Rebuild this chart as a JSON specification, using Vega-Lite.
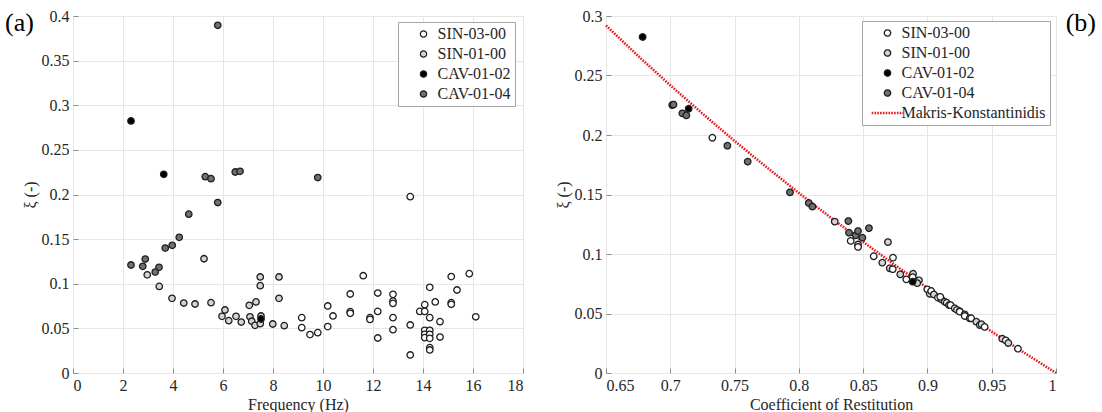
{
  "$schema": "https://vega.github.io/schema/vega-lite/v6.json",
  "padding": {"left": 4, "top": 7, "right": 0, "bottom": 0},
  "config": {
    "font": "Liberation Serif",
    "view": {"stroke": "#a6a6a6", "strokeWidth": 1},
    "style": {"guide-label": {"font": "Liberation Serif"}, "guide-title": {"font": "Liberation Serif"}},
    "axis": {"labelFont": "Liberation Serif", "labelFontSize": 16, "labelColor": "#262626", "titleFont": "Liberation Serif", "titleFontSize": 16, "titleFontWeight": "normal", "titleColor": "#262626", "gridColor": "#e6e6e6", "gridWidth": 1, "domain": false, "ticks": true, "tickSize": -5, "tickColor": "#8c8c8c", "tickWidth": 1, "labelPadding": 9, "titlePadding": 3},
    "legend": {"orient": "none", "title": null, "padding": 4, "symbolOffset": 13.5, "labelOffset": 6, "rowPadding": 4, "labelFont": "Liberation Serif", "labelFontSize": 16, "labelColor": "#262626", "strokeColor": "#a6a6a6", "fillColor": "white", "symbolSize": 40, "symbolStrokeWidth": 1.2},
    "title": {"font": "Liberation Serif", "fontSize": 26, "fontWeight": "normal", "color": "#000000"}
  },
  "spacing": 30,
  "resolve": {"scale": {"fill": "independent", "stroke": "independent", "shape": "independent", "strokeWidth": "independent", "strokeDash": "independent"}, "legend": {"fill": "independent", "stroke": "independent", "shape": "independent", "strokeWidth": "independent", "strokeDash": "independent"}},
  "hconcat": [
    {
      "width": 450,
      "height": 357,
      "title": {"text": "(a)", "anchor": "start", "frame": "group", "dx": -68, "dy": 40.5, "baseline": "middle", "offset": 0},
      "data": {"values": [
        {"f": 2.97, "xi": 0.110, "s": "SIN-01-00"},
        {"f": 5.24, "xi": 0.128, "s": "SIN-01-00"},
        {"f": 3.45, "xi": 0.097, "s": "SIN-01-00"},
        {"f": 3.96, "xi": 0.0837, "s": "SIN-01-00"},
        {"f": 4.43, "xi": 0.0784, "s": "SIN-01-00"},
        {"f": 4.88, "xi": 0.0773, "s": "SIN-01-00"},
        {"f": 5.52, "xi": 0.0788, "s": "SIN-01-00"},
        {"f": 6.08, "xi": 0.0706, "s": "SIN-01-00"},
        {"f": 5.96, "xi": 0.0635, "s": "SIN-01-00"},
        {"f": 6.23, "xi": 0.0586, "s": "SIN-01-00"},
        {"f": 6.52, "xi": 0.0635, "s": "SIN-01-00"},
        {"f": 6.73, "xi": 0.0571, "s": "SIN-01-00"},
        {"f": 7.08, "xi": 0.063, "s": "SIN-01-00"},
        {"f": 7.05, "xi": 0.0758, "s": "SIN-01-00"},
        {"f": 7.32, "xi": 0.0796, "s": "SIN-01-00"},
        {"f": 7.49, "xi": 0.1076, "s": "SIN-01-00"},
        {"f": 7.49, "xi": 0.0978, "s": "SIN-01-00"},
        {"f": 8.24, "xi": 0.1076, "s": "SIN-01-00"},
        {"f": 8.24, "xi": 0.0837, "s": "SIN-01-00"},
        {"f": 7.15, "xi": 0.058, "s": "SIN-01-00"},
        {"f": 7.28, "xi": 0.0534, "s": "SIN-01-00"},
        {"f": 7.49, "xi": 0.0553, "s": "SIN-01-00"},
        {"f": 7.52, "xi": 0.0639, "s": "SIN-01-00"},
        {"f": 7.99, "xi": 0.0549, "s": "SIN-01-00"},
        {"f": 8.45, "xi": 0.053, "s": "SIN-01-00"},
        {"f": 9.15, "xi": 0.062, "s": "SIN-03-00"},
        {"f": 9.15, "xi": 0.0508, "s": "SIN-03-00"},
        {"f": 9.48, "xi": 0.043, "s": "SIN-03-00"},
        {"f": 9.79, "xi": 0.0452, "s": "SIN-03-00"},
        {"f": 10.19, "xi": 0.0751, "s": "SIN-03-00"},
        {"f": 10.4, "xi": 0.0639, "s": "SIN-03-00"},
        {"f": 10.19, "xi": 0.052, "s": "SIN-03-00"},
        {"f": 11.09, "xi": 0.0885, "s": "SIN-03-00"},
        {"f": 11.09, "xi": 0.0687, "s": "SIN-03-00"},
        {"f": 11.09, "xi": 0.0669, "s": "SIN-03-00"},
        {"f": 11.61, "xi": 0.109, "s": "SIN-03-00"},
        {"f": 11.88, "xi": 0.062, "s": "SIN-03-00"},
        {"f": 11.88, "xi": 0.060, "s": "SIN-03-00"},
        {"f": 12.19, "xi": 0.0896, "s": "SIN-03-00"},
        {"f": 12.19, "xi": 0.069, "s": "SIN-03-00"},
        {"f": 12.19, "xi": 0.0392, "s": "SIN-03-00"},
        {"f": 12.8, "xi": 0.0881, "s": "SIN-03-00"},
        {"f": 12.8, "xi": 0.0807, "s": "SIN-03-00"},
        {"f": 12.8, "xi": 0.078, "s": "SIN-03-00"},
        {"f": 12.8, "xi": 0.062, "s": "SIN-03-00"},
        {"f": 12.8, "xi": 0.0485, "s": "SIN-03-00"},
        {"f": 13.49, "xi": 0.0538, "s": "SIN-03-00"},
        {"f": 13.49, "xi": 0.0202, "s": "SIN-03-00"},
        {"f": 13.87, "xi": 0.069, "s": "SIN-03-00"},
        {"f": 14.07, "xi": 0.0766, "s": "SIN-03-00"},
        {"f": 14.07, "xi": 0.069, "s": "SIN-03-00"},
        {"f": 14.07, "xi": 0.0478, "s": "SIN-03-00"},
        {"f": 14.07, "xi": 0.0433, "s": "SIN-03-00"},
        {"f": 14.07, "xi": 0.0396, "s": "SIN-03-00"},
        {"f": 14.27, "xi": 0.096, "s": "SIN-03-00"},
        {"f": 14.27, "xi": 0.062, "s": "SIN-03-00"},
        {"f": 14.27, "xi": 0.0478, "s": "SIN-03-00"},
        {"f": 14.27, "xi": 0.0433, "s": "SIN-03-00"},
        {"f": 14.27, "xi": 0.0388, "s": "SIN-03-00"},
        {"f": 14.27, "xi": 0.0284, "s": "SIN-03-00"},
        {"f": 14.27, "xi": 0.0258, "s": "SIN-03-00"},
        {"f": 14.49, "xi": 0.0796, "s": "SIN-03-00"},
        {"f": 14.68, "xi": 0.0575, "s": "SIN-03-00"},
        {"f": 14.68, "xi": 0.0403, "s": "SIN-03-00"},
        {"f": 15.13, "xi": 0.108, "s": "SIN-03-00"},
        {"f": 15.13, "xi": 0.0788, "s": "SIN-03-00"},
        {"f": 15.13, "xi": 0.077, "s": "SIN-03-00"},
        {"f": 15.36, "xi": 0.093, "s": "SIN-03-00"},
        {"f": 15.85, "xi": 0.1113, "s": "SIN-03-00"},
        {"f": 16.11, "xi": 0.063, "s": "SIN-03-00"},
        {"f": 13.49, "xi": 0.1976, "s": "SIN-03-00"},
        {"f": 5.79, "xi": 0.3896, "s": "CAV-01-04"},
        {"f": 5.29, "xi": 0.220, "s": "CAV-01-04"},
        {"f": 5.52, "xi": 0.2177, "s": "CAV-01-04"},
        {"f": 6.49, "xi": 0.2252, "s": "CAV-01-04"},
        {"f": 6.68, "xi": 0.226, "s": "CAV-01-04"},
        {"f": 5.79, "xi": 0.191, "s": "CAV-01-04"},
        {"f": 9.79, "xi": 0.219, "s": "CAV-01-04"},
        {"f": 4.63, "xi": 0.178, "s": "CAV-01-04"},
        {"f": 4.25, "xi": 0.152, "s": "CAV-01-04"},
        {"f": 3.97, "xi": 0.143, "s": "CAV-01-04"},
        {"f": 3.69, "xi": 0.140, "s": "CAV-01-04"},
        {"f": 2.32, "xi": 0.121, "s": "CAV-01-04"},
        {"f": 2.89, "xi": 0.1277, "s": "CAV-01-04"},
        {"f": 2.79, "xi": 0.1195, "s": "CAV-01-04"},
        {"f": 3.44, "xi": 0.1184, "s": "CAV-01-04"},
        {"f": 3.29, "xi": 0.1131, "s": "CAV-01-04"},
        {"f": 2.32, "xi": 0.2824, "s": "CAV-01-02"},
        {"f": 3.63, "xi": 0.2226, "s": "CAV-01-02"},
        {"f": 7.52, "xi": 0.0605, "s": "CAV-01-02"}
      ]},
      "mark": {"type": "point", "filled": true, "size": 42, "strokeWidth": 1.3, "opacity": 1},
      "encoding": {
        "x": {"field": "f", "type": "quantitative", "scale": {"domain": [0, 18], "nice": false}, "axis": {"title": "Frequency (Hz)", "labelFont": "Liberation Serif", "titleFont": "Liberation Serif", "values": [0, 2, 4, 6, 8, 10, 12, 14, 16, 18], "format": "~g"}},
        "y": {"field": "xi", "type": "quantitative", "scale": {"domain": [0, 0.4], "nice": false}, "axis": {"title": "ξ (-)", "labelFont": "Liberation Serif", "titleFont": "Liberation Serif", "values": [0, 0.05, 0.1, 0.15, 0.2, 0.25, 0.3, 0.35, 0.4], "format": "~g"}},
        "fill": {"field": "s", "type": "nominal", "scale": {"domain": ["SIN-03-00", "SIN-01-00", "CAV-01-02", "CAV-01-04"], "range": ["#ffffff", "#d4d4d4", "#000000", "#707070"]}, "legend": {"orient": "none", "legendX": 325, "legendY": 6, "title": null}},
        "stroke": {"field": "s", "type": "nominal", "scale": {"domain": ["SIN-03-00", "SIN-01-00", "CAV-01-02", "CAV-01-04"], "range": ["#1e1e1e", "#1e1e1e", "#1e1e1e", "#1e1e1e"]}, "legend": {"orient": "none", "legendX": 325, "legendY": 6, "title": null}}
      }
    },
    {
      "width": 450,
      "height": 357,
      "title": {"text": "(b)", "anchor": "end", "frame": "group", "dx": 40, "dy": 40.5, "baseline": "middle", "offset": 0},
      "layer": [
        {
          "data": {"values": [
            {"cor": 0.65, "xi": 0.292}, {"cor": 0.675, "xi": 0.2664}, {"cor": 0.70, "xi": 0.2418}, {"cor": 0.725, "xi": 0.218},
            {"cor": 0.75, "xi": 0.195}, {"cor": 0.775, "xi": 0.1728}, {"cor": 0.80, "xi": 0.1513}, {"cor": 0.825, "xi": 0.1304},
            {"cor": 0.85, "xi": 0.1102}, {"cor": 0.875, "xi": 0.0905}, {"cor": 0.90, "xi": 0.0714}, {"cor": 0.925, "xi": 0.0529},
            {"cor": 0.95, "xi": 0.0348}, {"cor": 0.975, "xi": 0.0172}, {"cor": 1.0, "xi": 0}
          ]},
          "mark": {"type": "line", "color": "#e8191f", "strokeWidth": 2.6, "strokeDash": [1.6, 1.2]},
          "encoding": {
            "x": {"field": "cor", "type": "quantitative", "scale": {"domain": [0.65, 1], "nice": false}, "axis": {"title": "Coefficient of Restitution", "labelFont": "Liberation Serif", "titleFont": "Liberation Serif", "values": [0.65, 0.7, 0.75, 0.8, 0.85, 0.9, 0.95, 1], "format": "~g"}},
            "y": {"field": "xi", "type": "quantitative", "scale": {"domain": [0, 0.3], "nice": false}, "axis": {"title": "ξ (-)", "labelFont": "Liberation Serif", "titleFont": "Liberation Serif", "values": [0, 0.05, 0.1, 0.15, 0.2, 0.25, 0.3], "format": "~g"}}
          }
        },
        {
          "data": {"values": [
            {"cor": 0.7327, "xi": 0.1977, "s": "SIN-03-00"},
            {"cor": 0.8279, "xi": 0.1272, "s": "SIN-01-00"},
            {"cor": 0.8403, "xi": 0.111, "s": "SIN-03-00"},
            {"cor": 0.846, "xi": 0.108, "s": "SIN-01-00"},
            {"cor": 0.846, "xi": 0.1059, "s": "SIN-03-00"},
            {"cor": 0.8693, "xi": 0.110, "s": "SIN-01-00"},
            {"cor": 0.8582, "xi": 0.0981, "s": "SIN-03-00"},
            {"cor": 0.8649, "xi": 0.0927, "s": "SIN-01-00"},
            {"cor": 0.8732, "xi": 0.0969, "s": "SIN-03-00"},
            {"cor": 0.8707, "xi": 0.088, "s": "SIN-01-00"},
            {"cor": 0.873, "xi": 0.0872, "s": "SIN-03-00"},
            {"cor": 0.8789, "xi": 0.0829, "s": "SIN-01-00"},
            {"cor": 0.8836, "xi": 0.0787, "s": "SIN-03-00"},
            {"cor": 0.8888, "xi": 0.0834, "s": "SIN-01-00"},
            {"cor": 0.891, "xi": 0.0775, "s": "SIN-03-00"},
            {"cor": 0.8934, "xi": 0.0779, "s": "SIN-01-00"},
            {"cor": 0.8885, "xi": 0.0805, "s": "SIN-03-00"},
            {"cor": 0.892, "xi": 0.0755, "s": "SIN-01-00"},
            {"cor": 0.8999, "xi": 0.0703, "s": "SIN-03-00"},
            {"cor": 0.9018, "xi": 0.0666, "s": "SIN-01-00"},
            {"cor": 0.9029, "xi": 0.0689, "s": "SIN-03-00"},
            {"cor": 0.905, "xi": 0.066, "s": "SIN-01-00"},
            {"cor": 0.9082, "xi": 0.0633, "s": "SIN-03-00"},
            {"cor": 0.9108, "xi": 0.0619, "s": "SIN-01-00"},
            {"cor": 0.91, "xi": 0.064, "s": "SIN-03-00"},
            {"cor": 0.9134, "xi": 0.0599, "s": "SIN-01-00"},
            {"cor": 0.915, "xi": 0.059, "s": "SIN-03-00"},
            {"cor": 0.9168, "xi": 0.0571, "s": "SIN-01-00"},
            {"cor": 0.918, "xi": 0.057, "s": "SIN-03-00"},
            {"cor": 0.9212, "xi": 0.0544, "s": "SIN-01-00"},
            {"cor": 0.923, "xi": 0.053, "s": "SIN-03-00"},
            {"cor": 0.925, "xi": 0.052, "s": "SIN-01-00"},
            {"cor": 0.9251, "xi": 0.0515, "s": "SIN-03-00"},
            {"cor": 0.929, "xi": 0.0493, "s": "SIN-01-00"},
            {"cor": 0.929, "xi": 0.0479, "s": "SIN-03-00"},
            {"cor": 0.9329, "xi": 0.046, "s": "SIN-01-00"},
            {"cor": 0.934, "xi": 0.046, "s": "SIN-03-00"},
            {"cor": 0.938, "xi": 0.0431, "s": "SIN-01-00"},
            {"cor": 0.9407, "xi": 0.0403, "s": "SIN-03-00"},
            {"cor": 0.942, "xi": 0.041, "s": "SIN-01-00"},
            {"cor": 0.9445, "xi": 0.0387, "s": "SIN-03-00"},
            {"cor": 0.9582, "xi": 0.0288, "s": "SIN-01-00"},
            {"cor": 0.9609, "xi": 0.0274, "s": "SIN-03-00"},
            {"cor": 0.9629, "xi": 0.0252, "s": "SIN-01-00"},
            {"cor": 0.9704, "xi": 0.0204, "s": "SIN-03-00"},
            {"cor": 0.7015, "xi": 0.2252, "s": "CAV-01-04"},
            {"cor": 0.7025, "xi": 0.2256, "s": "CAV-01-04"},
            {"cor": 0.7094, "xi": 0.2182, "s": "CAV-01-04"},
            {"cor": 0.7125, "xi": 0.2165, "s": "CAV-01-04"},
            {"cor": 0.7444, "xi": 0.191, "s": "CAV-01-04"},
            {"cor": 0.7602, "xi": 0.1776, "s": "CAV-01-04"},
            {"cor": 0.7931, "xi": 0.1518, "s": "CAV-01-04"},
            {"cor": 0.8077, "xi": 0.1429, "s": "CAV-01-04"},
            {"cor": 0.8105, "xi": 0.1398, "s": "CAV-01-04"},
            {"cor": 0.8385, "xi": 0.1277, "s": "CAV-01-04"},
            {"cor": 0.839, "xi": 0.1179, "s": "CAV-01-04"},
            {"cor": 0.8442, "xi": 0.1157, "s": "CAV-01-04"},
            {"cor": 0.846, "xi": 0.1193, "s": "CAV-01-04"},
            {"cor": 0.8494, "xi": 0.1137, "s": "CAV-01-04"},
            {"cor": 0.8545, "xi": 0.1217, "s": "CAV-01-04"},
            {"cor": 0.6785, "xi": 0.2824, "s": "CAV-01-02"},
            {"cor": 0.7143, "xi": 0.2221, "s": "CAV-01-02"},
            {"cor": 0.8885, "xi": 0.0767, "s": "CAV-01-02"}
          ]},
          "mark": {"type": "point", "filled": true, "size": 42, "opacity": 1},
          "encoding": {
            "x": {"field": "cor", "type": "quantitative", "scale": {"domain": [0.65, 1], "nice": false}, "axis": {"title": "Coefficient of Restitution", "labelFont": "Liberation Serif", "titleFont": "Liberation Serif", "values": [0.65, 0.7, 0.75, 0.8, 0.85, 0.9, 0.95, 1], "format": "~g"}},
            "y": {"field": "xi", "type": "quantitative", "scale": {"domain": [0, 0.3], "nice": false}, "axis": {"title": "ξ (-)", "labelFont": "Liberation Serif", "titleFont": "Liberation Serif", "values": [0, 0.05, 0.1, 0.15, 0.2, 0.25, 0.3], "format": "~g"}},
            "fill": {"field": "s", "type": "nominal", "scale": {"domain": ["SIN-03-00", "SIN-01-00", "CAV-01-02", "CAV-01-04", "Makris-Konstantinidis"], "range": ["#ffffff", "#d4d4d4", "#000000", "#707070", "#e8191f"]}, "legend": {"orient": "none", "legendX": 256, "legendY": 5, "title": null}},
            "stroke": {"field": "s", "type": "nominal", "scale": {"domain": ["SIN-03-00", "SIN-01-00", "CAV-01-02", "CAV-01-04", "Makris-Konstantinidis"], "range": ["#1e1e1e", "#1e1e1e", "#1e1e1e", "#1e1e1e", "#e8191f"]}, "legend": {"orient": "none", "legendX": 256, "legendY": 5, "title": null}},
            "strokeWidth": {"field": "s", "type": "nominal", "scale": {"type": "ordinal", "domain": ["SIN-03-00", "SIN-01-00", "CAV-01-02", "CAV-01-04", "Makris-Konstantinidis"], "range": [1.3, 1.3, 1.3, 1.3, 2.6]}, "legend": {"orient": "none", "legendX": 256, "legendY": 5, "title": null}},
            "strokeDash": {"field": "s", "type": "nominal", "scale": {"domain": ["SIN-03-00", "SIN-01-00", "CAV-01-02", "CAV-01-04", "Makris-Konstantinidis"], "range": [[1, 0], [1, 0], [1, 0], [1, 0], [1.6, 1.2]]}, "legend": {"orient": "none", "legendX": 256, "legendY": 5, "title": null}},
            "shape": {"field": "s", "type": "nominal", "scale": {"domain": ["SIN-03-00", "SIN-01-00", "CAV-01-02", "CAV-01-04", "Makris-Konstantinidis"], "range": ["circle", "circle", "circle", "circle", "M-5,0H5"]}, "legend": {"orient": "none", "legendX": 256, "legendY": 5, "title": null}}
          }
        }
      ]
    }
  ]
}
